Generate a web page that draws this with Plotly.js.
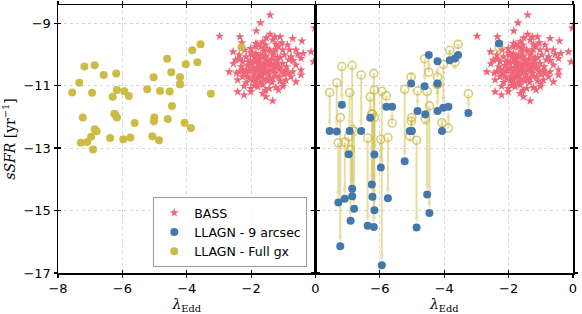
<!DOCTYPE html>
<html>
<head>
<meta charset="utf-8">
<script src="https://cdn.plot.ly/plotly-3.0.1.min.js"></script>
<style>html,body{margin:0;padding:0;background:#fff;}#chart{width:582px;height:314px;}</style>
</head>
<body>
<div id="chart"></div>
<script>
// LLAGN: Eddington ratio, sSFR for full galaxy and 9 arcsec aperture
const llagnEdd = [-7.56,-7.34,-7.18,-6.86,-6.94,-7.23,-7.29,-7.09,-6.97,-6.86,-6.80,-6.91,-6.58,-6.19,-6.17,-6.30,-5.94,-5.80,-6.23,-6.17,-5.62,-6.38,-5.97,-5.75,-5.23,-5.03,-4.83,-4.61,-4.48,-4.53,-4.46,-5.01,-5.02,-4.59,-5.07,-4.86,-4.21,-4.21,-4.03,-3.83,-3.67,-3.57,-4.07,-3.87,-3.25,-2.30,-4.21,-6.25];
const llagnFull = [-11.22,-10.91,-10.39,-10.35,-11.23,-12.02,-12.83,-12.81,-12.64,-12.40,-12.46,-13.05,-10.66,-10.61,-11.14,-11.36,-11.18,-11.33,-11.92,-12.02,-12.20,-12.68,-12.72,-12.66,-11.12,-10.73,-11.17,-10.14,-10.57,-11.19,-11.65,-12.02,-12.14,-12.07,-12.62,-12.75,-10.73,-10.96,-10.32,-9.87,-10.25,-9.68,-12.19,-12.36,-11.26,-9.77,-10.96,-11.90];
const llagn9 = [-12.45,-12.47,-11.61,-14.54,-12.45,-16.14,-14.74,-14.62,-13.20,-14.30,-14.94,-15.33,-12.45,-15.53,-14.99,-12.03,-16.75,-11.68,-14.56,-13.21,-11.68,-15.49,-13.62,-14.61,-13.42,-10.93,-11.81,-11.02,-10.02,-14.49,-15.08,-12.45,-12.45,-11.92,-12.45,-15.54,-10.22,-11.81,-11.71,-10.19,-10.13,-10.02,-12.45,-11.68,-11.88,-9.65,-10.93,-14.17];
// BASS sample
const bassEdd = [-1.41,-1.71,-1.84,-2.98,-2.35,-1.41,-1.53,-1.26,-1.10,-0.71,-2.29,-1.05,-0.42,-1.64,-1.33,-1.80,-1.23,-0.87,-2.56,-2.20,-2.01,-1.85,-1.70,-1.59,-1.44,-1.23,-1.02,-0.81,-0.61,-0.38,-0.14,-2.37,-2.16,-1.98,-1.85,-1.70,-1.54,-1.33,-1.18,-0.97,-0.76,-0.45,-2.48,-2.27,-2.08,-1.96,-1.75,-1.59,-1.44,-1.23,-1.02,-0.83,-0.61,-0.06,-2.68,-2.37,-2.16,-2.01,-1.85,-1.70,-1.54,-1.33,-1.13,-0.92,-0.71,-0.45,-2.27,-2.06,-1.85,-1.70,-1.54,-1.33,-1.13,-0.92,-0.76,-0.61,-2.42,-2.22,-2.01,-1.80,-1.64,-1.44,-1.23,-1.02,-1.85,-2.42,-2.22,-2.01,-1.64,-1.54,-1.33,-1.15,-0.02,-0.45,
 -1.9,-1.8,-1.65,-1.5,-1.35,-1.2,-1.75,-1.6,-1.45,-1.3,-1.9,-1.75,-1.6,-1.45,-1.25,-2.1,-2.2,-1.95,-1.7,-1.5,-1.35,-1.1,-2.0,-1.6,-1.3,-1.1,-0.9,-2.3,-2.45,-1.9,-1.55,-1.85,-1.55,-1.95,-1.05,-0.85,-2.15,-1.7,-1.4,-1.8,-1.25,-1.0,-0.7,-0.55,-2.35,-2.55,-1.15,-1.4,-2.05,-1.6,
 -1.88,-1.72,-1.52,-1.38,-1.68,-1.48,-2.02,-1.82,-1.62,-1.28,-2.12,-1.92,-1.42,-1.18,-1.58,-1.78,-2.25,-0.98,-1.12,-1.62];
const bassSSFR = [-8.74,-8.99,-9.25,-9.42,-9.44,-9.36,-9.47,-9.44,-9.44,-9.49,-9.63,-9.63,-9.57,-9.60,-9.54,-9.68,-9.68,-9.70,-9.92,-9.86,-9.81,-9.76,-9.76,-9.81,-9.86,-9.84,-9.86,-9.86,-9.86,-9.97,-9.92,-10.02,-10.08,-10.02,-9.97,-10.02,-10.08,-10.02,-10.10,-10.02,-10.08,-10.13,-10.18,-10.24,-10.24,-10.29,-10.24,-10.34,-10.24,-10.29,-10.29,-10.18,-10.34,-10.24,-10.56,-10.56,-10.50,-10.45,-10.50,-10.45,-10.56,-10.50,-10.45,-10.50,-10.56,-10.66,-10.72,-10.77,-10.82,-10.72,-10.82,-10.77,-10.72,-10.82,-10.72,-10.88,-10.82,-11.02,-11.09,-11.04,-10.98,-11.09,-11.06,-11.02,-10.93,-11.20,-11.30,-11.20,-11.25,-11.36,-11.49,-11.14,-9.16,-10.50,
 -10.1,-10.15,-10.1,-10.2,-10.15,-10.2,-10.35,-10.45,-10.35,-10.4,-10.6,-10.65,-10.6,-10.65,-10.6,-10.35,-10.6,-10.85,-10.9,-10.85,-10.9,-10.85,-9.95,-9.9,-9.95,-10.1,-10.4,-10.4,-10.6,-11.0,-11.15,-9.65,-9.7,-10.45,-10.55,-10.6,-10.9,-10.55,-10.5,-10.75,-10.7,-10.95,-10.2,-10.0,-10.15,-10.3,-9.75,-9.9,-10.55,-10.3,
 -10.25,-10.28,-10.3,-10.32,-10.5,-10.55,-10.22,-10.42,-10.38,-10.48,-10.7,-10.72,-10.75,-10.28,-10.05,-10.05,-10.5,-10.65,-10.42,-10.78];
const xTicks = [-8,-6,-4,-2,0];
const xTicks2 = [-6,-4,-2,0];
const yTicks = [-9,-11,-13,-15,-17];

// arrow segments (full galaxy -> 9 arcsec), built from the data arrays
const arrX = [], arrY = [], arrSize = [];
llagnEdd.forEach((e,i)=>{ arrX.push(e,e,null); arrY.push(llagnFull[i],llagn9[i],null); arrSize.push(0,7,0); });

const RED='#EE6677', BLUE='#4477AA', YEL='#CCBB44';
const traces = [
  {x:bassEdd,y:bassSSFR,xaxis:'x',yaxis:'y',mode:'markers',type:'scatter',name:'BASS',legendrank:1,
   marker:{symbol:'star',size:7,color:RED}},
  {x:bassEdd,y:bassSSFR,xaxis:'x2',yaxis:'y2',mode:'markers',type:'scatter',showlegend:false,
   marker:{symbol:'star',size:7,color:RED}},
  {x:arrX,y:arrY,xaxis:'x2',yaxis:'y2',mode:'lines+markers',type:'scatter',showlegend:false,connectgaps:false,
   line:{color:'rgba(204,187,68,0.5)',width:2},
   marker:{symbol:'arrow',size:arrSize,angleref:'previous',standoff:4,color:'rgba(204,187,68,0.6)',line:{width:0}}},
  {x:llagnEdd,y:llagnFull,xaxis:'x2',yaxis:'y2',mode:'markers',type:'scatter',showlegend:false,
   marker:{symbol:'circle-open',size:8,color:'rgba(204,187,68,0.75)',line:{width:1.6}}},
  {x:llagnEdd,y:llagn9,xaxis:'x2',yaxis:'y2',mode:'markers',type:'scatter',name:'LLAGN - 9 arcsec',legendrank:2,
   marker:{symbol:'circle',size:8,color:BLUE}},
  {x:llagnEdd,y:llagnFull,xaxis:'x',yaxis:'y',mode:'markers',type:'scatter',name:'LLAGN - Full gx',legendrank:3,
   marker:{symbol:'circle',size:8,color:YEL}},
  // empty traces carrying the inner tick marks
  {x:[],y:[],xaxis:'x3',yaxis:'y3',type:'scatter',mode:'markers',showlegend:false,hoverinfo:'skip'},
  {x:[],y:[],xaxis:'x4',yaxis:'y4',type:'scatter',mode:'markers',showlegend:false,hoverinfo:'skip'}
];
const tickfont = {family:'DejaVu Sans',size:13,color:'#000'};
const axBase = {range:[-8,0],showline:true,linecolor:'#000',linewidth:1.5,mirror:'ticks',
  ticks:'outside',ticklen:3,tickwidth:1.2,tickcolor:'#000',tickfont:tickfont,zeroline:false,
  showgrid:true,gridcolor:'#d4d4d4',griddash:'dot',gridwidth:0.9};
const inner = {ticks:'inside',ticklen:3,tickwidth:1.2,tickcolor:'#000',mirror:'ticks',showline:false,
  showgrid:false,zeroline:false,showticklabels:false};
const ttl = {family:'DejaVu Serif',size:14,color:'#000'};
const layout = {
  width:582,height:314,
  margin:{l:58,r:9,t:5,b:41},
  paper_bgcolor:'#fff',plot_bgcolor:'#fff',
  showlegend:true,
  xaxis:Object.assign({},axBase,{domain:[0,0.5],anchor:'y',tickvals:xTicks,
    title:{text:'<i>λ</i><sub>Edd</sub>',font:ttl,standoff:4}}),
  xaxis2:Object.assign({},axBase,{domain:[0.5,1],anchor:'y2',tickvals:xTicks2,
    title:{text:'<i>λ</i><sub>Edd</sub>',font:ttl,standoff:4}}),
  yaxis:Object.assign({},axBase,{range:[-17,-8.42],anchor:'x',tickvals:yTicks,
    title:{text:'<i>sSFR</i> [yr<sup>−1</sup>]',font:ttl,standoff:6}}),
  yaxis2:Object.assign({},axBase,{range:[-17,-8.42],anchor:'x2',tickvals:yTicks,showticklabels:false}),
  xaxis3:Object.assign({},inner,{range:[-8,0],overlaying:'x',anchor:'y3',tickvals:xTicks}),
  yaxis3:Object.assign({},inner,{range:[-17,-8.42],overlaying:'y',anchor:'x3',tickvals:yTicks}),
  xaxis4:Object.assign({},inner,{range:[-8,0],overlaying:'x2',anchor:'y4',tickvals:xTicks}),
  yaxis4:Object.assign({},inner,{range:[-17,-8.42],overlaying:'y2',anchor:'x4',tickvals:yTicks}),
  legend:{x:0.484,xanchor:'right',y:0.022,yanchor:'bottom',xref:'paper',yref:'paper',
    bgcolor:'rgba(255,255,255,0.85)',bordercolor:'#999',borderwidth:1,
    font:{family:'DejaVu Sans',size:12.5,color:'#000'},traceorder:'normal',itemwidth:30,tracegroupgap:0}
};
Plotly.newPlot('chart',traces,layout,{displayModeBar:false,staticPlot:true});
</script>
</body>
</html>
